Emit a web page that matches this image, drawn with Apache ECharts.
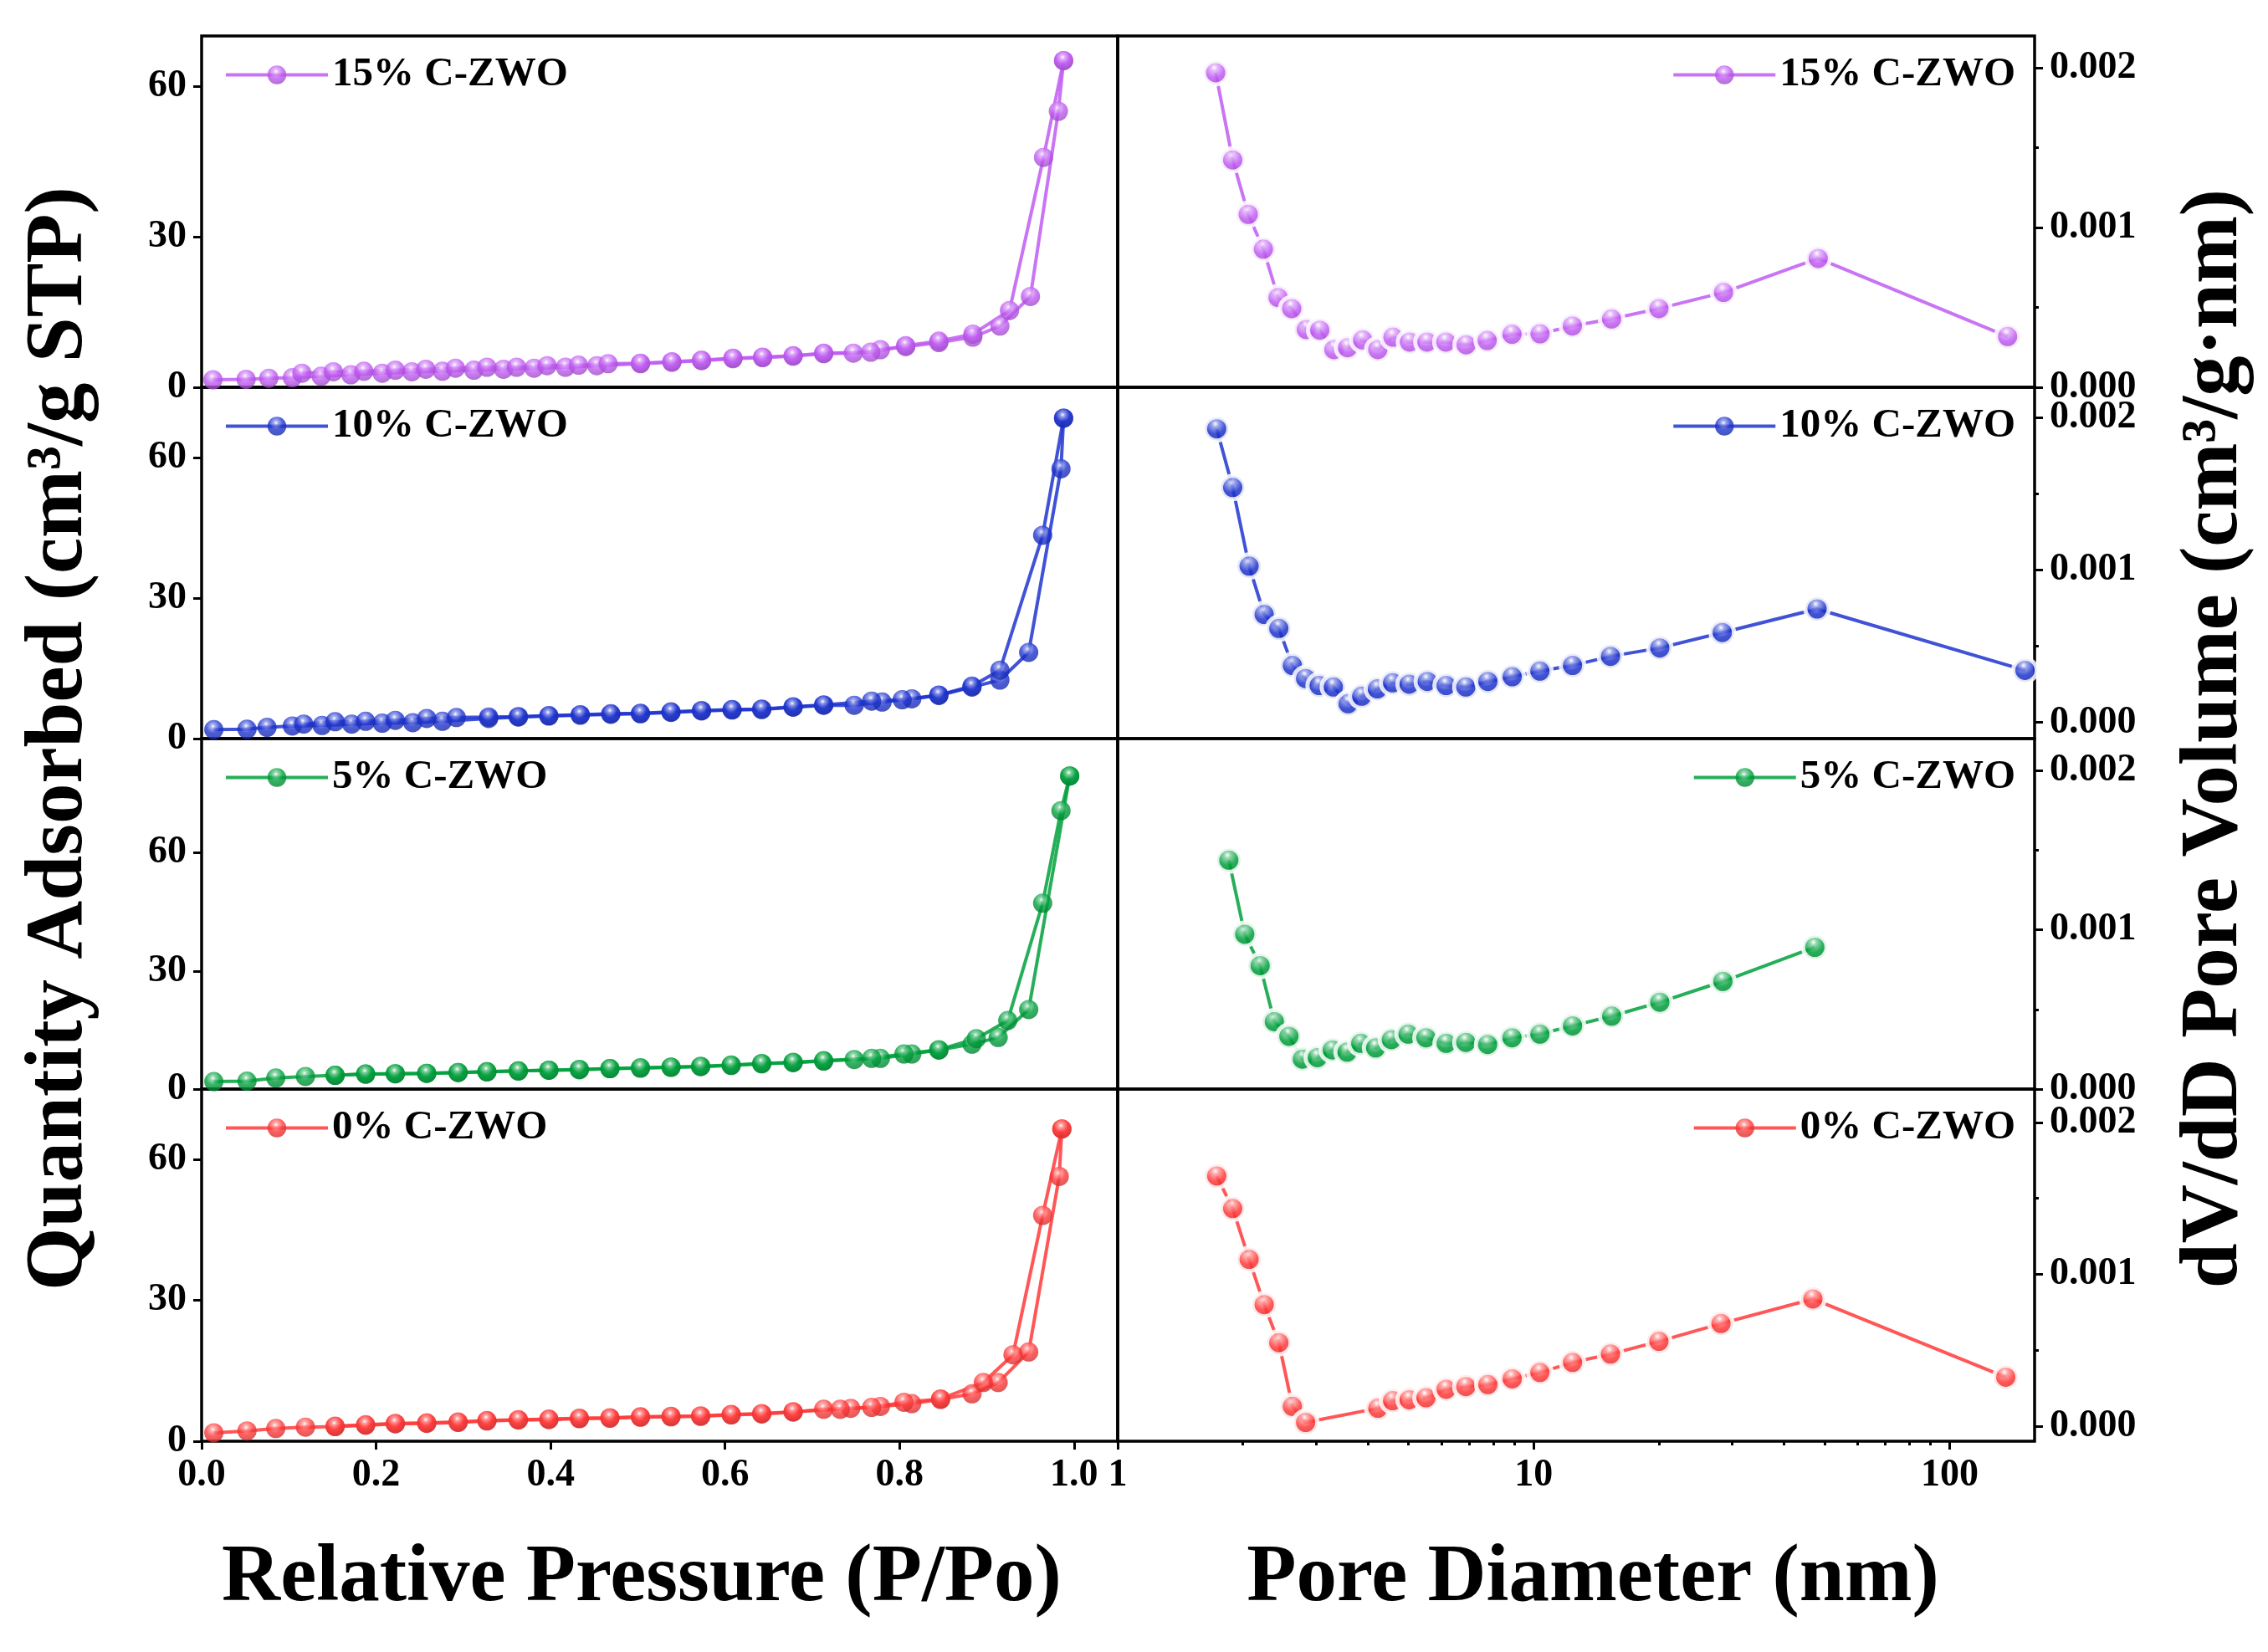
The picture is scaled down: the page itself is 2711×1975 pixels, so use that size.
<!DOCTYPE html>
<html>
<head>
<meta charset="utf-8">
<title>N2 isotherms and pore size distribution</title>
<script src="https://cdn.jsdelivr.net/npm/echarts@6/dist/echarts.min.js"></script>
<style>
  html, body { margin: 0; padding: 0; background: #fff; }
  #chart { width: 2711px; height: 1975px; }
</style>
</head>
<body>
<div id="chart"></div>
<script>
// samples, top row to bottom row
const sampleNames = ['15% C-ZWO', '10% C-ZWO', '5% C-ZWO', '0% C-ZWO'];

// isotherms: relative pressure (P/Po) and quantity adsorbed (cm3/g STP)
const iso15AdsP = [0.013, 0.051, 0.077, 0.104, 0.137, 0.171, 0.207, 0.241, 0.276, 0.312, 0.346, 0.381, 0.417, 0.453, 0.503, 0.539, 0.573, 0.609, 0.643, 0.678, 0.713, 0.747, 0.778, 0.807, 0.845, 0.884, 0.915, 0.950, 0.982, 0.988];
const iso15AdsV = [1.5, 1.6, 1.8, 1.9, 2.2, 2.5, 2.8, 3.1, 3.2, 3.4, 3.6, 3.8, 4.0, 4.3, 4.7, 5.0, 5.3, 5.7, 5.9, 6.2, 6.7, 6.8, 7.5, 8.1, 8.9, 10.0, 12.2, 18.1, 55.0, 65.1];
const iso15DesP = [0.988, 0.965, 0.926, 0.884, 0.845, 0.807, 0.767, 0.713, 0.678, 0.643, 0.609, 0.573, 0.539, 0.503, 0.466, 0.432, 0.396, 0.361, 0.327, 0.291, 0.257, 0.222, 0.186, 0.151, 0.115];
const iso15DesV = [65.1, 45.8, 15.3, 10.6, 9.2, 8.3, 7.0, 6.8, 6.3, 6.0, 5.8, 5.4, 5.1, 4.8, 4.7, 4.4, 4.3, 4.0, 4.0, 3.8, 3.6, 3.4, 3.2, 3.1, 2.8];

const iso10AdsP = [0.014, 0.052, 0.075, 0.104, 0.138, 0.172, 0.207, 0.242, 0.276, 0.329, 0.363, 0.398, 0.434, 0.469, 0.503, 0.538, 0.573, 0.608, 0.642, 0.678, 0.713, 0.748, 0.780, 0.814, 0.845, 0.883, 0.915, 0.948, 0.985, 0.988];
const iso10AdsV = [1.9, 2.0, 2.4, 2.7, 2.8, 3.1, 3.3, 3.4, 3.7, 4.3, 4.6, 4.8, 5.0, 5.2, 5.3, 5.6, 5.9, 6.1, 6.2, 6.7, 7.1, 7.1, 7.8, 8.5, 9.2, 11.0, 12.5, 18.4, 57.6, 68.4];
const iso10DesP = [0.988, 0.964, 0.915, 0.883, 0.845, 0.803, 0.768, 0.713, 0.678, 0.642, 0.608, 0.573, 0.538, 0.503, 0.469, 0.434, 0.398, 0.363, 0.329, 0.292, 0.258, 0.222, 0.188, 0.153, 0.117];
const iso10DesV = [68.4, 43.4, 14.6, 11.2, 9.3, 8.3, 8.0, 7.2, 6.8, 6.3, 6.2, 6.0, 5.7, 5.4, 5.3, 5.1, 4.9, 4.7, 4.6, 4.5, 4.3, 3.9, 3.7, 3.6, 3.1];

const iso5AdsP = [0.014, 0.052, 0.085, 0.119, 0.153, 0.188, 0.222, 0.258, 0.294, 0.327, 0.363, 0.398, 0.433, 0.468, 0.503, 0.538, 0.572, 0.607, 0.642, 0.678, 0.713, 0.748, 0.778, 0.814, 0.845, 0.883, 0.913, 0.948, 0.995];
const iso5AdsV = [1.9, 2.0, 2.8, 3.2, 3.5, 3.8, 3.9, 4.0, 4.2, 4.4, 4.6, 4.8, 4.9, 5.2, 5.3, 5.5, 5.7, 6.0, 6.4, 6.7, 7.1, 7.5, 7.8, 8.9, 9.9, 11.4, 13.1, 20.2, 79.5];
const iso5DesP = [0.995, 0.985, 0.964, 0.924, 0.888, 0.845, 0.805, 0.768, 0.713, 0.678, 0.642, 0.607, 0.572, 0.538, 0.503, 0.468, 0.433, 0.398, 0.363, 0.327, 0.294, 0.258, 0.222, 0.188, 0.153];
const iso5DesV = [79.5, 70.7, 47.2, 17.4, 12.8, 10.0, 8.9, 7.8, 7.2, 6.8, 6.5, 6.1, 5.8, 5.6, 5.4, 5.2, 5.0, 4.8, 4.6, 4.4, 4.2, 4.0, 3.9, 3.8, 3.5];

const iso0AdsP = [0.014, 0.052, 0.085, 0.119, 0.153, 0.188, 0.222, 0.258, 0.294, 0.327, 0.363, 0.398, 0.433, 0.468, 0.503, 0.538, 0.572, 0.607, 0.642, 0.678, 0.713, 0.744, 0.778, 0.814, 0.847, 0.883, 0.913, 0.948, 0.983, 0.986];
const iso0AdsV = [1.8, 2.2, 2.7, 3.0, 3.1, 3.4, 3.7, 3.8, 4.0, 4.3, 4.5, 4.6, 4.8, 4.9, 5.1, 5.2, 5.3, 5.6, 5.8, 6.2, 6.8, 7.0, 7.4, 8.0, 8.9, 10.1, 12.5, 19.0, 56.4, 66.5];
const iso0DesP = [0.986, 0.964, 0.930, 0.896, 0.847, 0.805, 0.768, 0.732, 0.678, 0.642, 0.607, 0.572, 0.538, 0.503, 0.468, 0.433, 0.398, 0.363, 0.327, 0.294, 0.258, 0.222, 0.188, 0.153];
const iso0DesV = [66.5, 48.1, 18.4, 12.5, 9.0, 8.3, 7.2, 6.8, 6.3, 5.9, 5.7, 5.4, 5.3, 5.2, 5.0, 4.9, 4.7, 4.6, 4.4, 4.1, 3.9, 3.8, 3.5, 3.2];

// pore size distribution: pore diameter (nm) and dV/dD (cm3/g.nm)
const psd15D = [1.72, 1.89, 2.06, 2.24, 2.43, 2.62, 2.84, 3.06, 3.31, 3.57, 3.88, 4.22, 4.59, 5.03, 5.54, 6.15, 6.88, 7.73, 8.87, 10.36, 12.39, 15.39, 20.0, 28.6, 48.3, 137.8];
const psd15V = [0.00197, 0.001424, 0.001083, 0.000865, 0.000562, 0.000493, 0.000362, 0.000358, 0.000236, 0.000248, 0.000297, 0.000236, 0.000314, 0.000283, 0.000283, 0.000283, 0.000266, 0.000293, 0.000332, 0.000335, 0.000384, 0.000428, 0.000493, 0.000594, 0.000807, 0.000318];

const psd10D = [1.73, 1.89, 2.07, 2.25, 2.44, 2.63, 2.83, 3.05, 3.30, 3.58, 3.86, 4.21, 4.58, 5.02, 5.55, 6.16, 6.87, 7.76, 8.88, 10.35, 12.4, 15.3, 20.1, 28.4, 48.0, 151.7];
const psd10V = [0.001927, 0.001542, 0.001026, 0.000709, 0.000617, 0.000374, 0.000288, 0.000242, 0.000233, 0.000123, 0.000172, 0.00022, 0.00026, 0.000251, 0.000269, 0.000242, 0.000233, 0.000269, 0.0003, 0.000337, 0.000374, 0.000434, 0.000489, 0.00059, 0.000745, 0.000342];

const psd5D = [1.85, 2.02, 2.20, 2.38, 2.58, 2.78, 3.02, 3.28, 3.56, 3.84, 4.17, 4.55, 4.99, 5.51, 6.16, 6.87, 7.75, 8.87, 10.35, 12.4, 15.4, 20.1, 28.5, 47.4];
const psd5V = [0.001437, 0.000972, 0.000775, 0.000423, 0.000331, 0.000188, 0.000197, 0.000246, 0.000232, 0.000287, 0.000258, 0.00031, 0.000345, 0.000322, 0.000287, 0.000293, 0.00028, 0.000322, 0.000345, 0.000397, 0.000458, 0.000545, 0.000676, 0.00089];

const psd0D = [1.73, 1.89, 2.07, 2.25, 2.44, 2.63, 2.83, 4.22, 4.58, 5.02, 5.51, 6.16, 6.87, 7.76, 8.88, 10.35, 12.4, 15.3, 20.0, 28.2, 46.9, 136.4];
const psd0V = [0.001647, 0.001433, 0.001098, 0.0008, 0.000549, 0.00013, 0.000024, 0.000117, 0.000167, 0.000173, 0.000186, 0.000242, 0.00026, 0.000273, 0.000311, 0.000353, 0.000419, 0.000474, 0.000558, 0.000675, 0.000837, 0.000322];

// axis ranges and tick labels
const pressureTicks = [0, 0.2, 0.4, 0.6, 0.8, 1.0];
const quantityTicks = [0, 30, 60];
const quantityMax = [70, 75, 89, 75];
const volumeTicks = [0, 0.001, 0.002];
const volumeMinorTicks = [0.0005, 0.0015];
const volumeMin = [0, -0.000106, 0, -0.0001];
const volumeMax = [0.0022, 0.0022, 0.0022, 0.00222];
const diameterMin = 1;
const diameterMax = 160;
const diameterDecades = [1, 10, 100];
const diameterMinorTicks = [2, 3, 4, 5, 6, 7, 8, 9, 20, 30, 40, 50, 60, 70, 80, 90];

const sampleColors = ['#c05cf2', '#1f34cf', '#00a03c', '#ff3a3a'];

const isotherms = [
  [iso15AdsP, iso15AdsV, iso15DesP, iso15DesV],
  [iso10AdsP, iso10AdsV, iso10DesP, iso10DesV],
  [iso5AdsP, iso5AdsV, iso5DesP, iso5DesV],
  [iso0AdsP, iso0AdsV, iso0DesP, iso0DesV],
];
const distributions = [
  [psd15D, psd15V],
  [psd10D, psd10V],
  [psd5D, psd5V],
  [psd0D, psd0V],
];

const FONT = '"Liberation Serif", "Times New Roman", serif';
const rowTops = [43, 463, 883, 1302];
const rowHeights = [420, 420, 419, 421];
const colLefts = [241, 1336];
const colWidths = [1095, 1096];

const zip = (xs, ys) => xs.map((x, i) => [x, ys[i]]);

const mix = (hex, target, t) => {
  const v = parseInt(hex.slice(1), 16);
  const ch = [(v >> 16) & 255, (v >> 8) & 255, v & 255];
  const out = ch.map((c) => Math.round(c + (target - c) * t));
  return `rgb(${out[0]}, ${out[1]}, ${out[2]})`;
};

// shaded sphere look of the markers
const ball = (color) => ({
  type: 'radial',
  x: 0.45,
  y: 0.32,
  r: 0.72,
  colorStops: [
    { offset: 0, color: '#ffffff' },
    { offset: 0.16, color: mix(color, 255, 0.5) },
    { offset: 0.5, color },
    { offset: 1, color: mix(color, 0, 0.2) },
  ],
});

const tickLabel = {
  fontFamily: FONT,
  fontWeight: 'bold',
  fontSize: 46,
  color: '#000',
  margin: 18,
};
const tickLine = { color: '#000', width: 3 };

const grids = [];
const xAxes = [];
const yAxes = [];
const series = [];
const legends = [];

rowTops.forEach((top, r) => {
  colLefts.forEach((left, c) => {
    grids.push({
      left,
      top,
      width: colWidths[c],
      height: rowHeights[r],
      show: true,
      borderColor: '#000',
      borderWidth: 3.5,
      containLabel: false,
      outerBoundsMode: 'none',
    });
  });
});

rowTops.forEach((top, r) => {
  const name = sampleNames[r];
  const color = sampleColors[r];
  const bottomRow = r === rowTops.length - 1;

  // left: isotherm
  const leftX = xAxes.length;
  xAxes.push({
    type: 'value',
    gridIndex: r * 2,
    min: 0,
    max: 1.05,
    show: bottomRow,
    position: 'bottom',
    axisLine: { show: false, onZero: false },
    axisTick: { show: true, inside: false, length: 10, lineStyle: tickLine, customValues: pressureTicks },
    axisLabel: { ...tickLabel, customValues: pressureTicks, formatter: (v) => v.toFixed(1) },
    splitLine: { show: false },
  });
  const leftY = yAxes.length;
  yAxes.push({
    type: 'value',
    gridIndex: r * 2,
    min: 0,
    max: quantityMax[r],
    position: 'left',
    axisLine: { show: false, onZero: false },
    axisTick: { show: true, inside: false, length: 10, lineStyle: tickLine, customValues: quantityTicks },
    axisLabel: { ...tickLabel, customValues: quantityTicks },
    splitLine: { show: false },
  });

  // right: pore size distribution on a log axis
  const rightX = xAxes.length;
  xAxes.push({
    type: 'log',
    logBase: 10,
    gridIndex: r * 2 + 1,
    min: diameterMin,
    max: diameterMax,
    show: false,
    axisLine: { onZero: false },
    splitLine: { show: false },
  });
  if (bottomRow) {
    // decade ticks and labels, then the minor ticks in between
    const logMax = Math.log10(diameterMax);
    xAxes.push({
      type: 'value',
      gridIndex: r * 2 + 1,
      min: Math.log10(diameterMin),
      max: logMax,
      position: 'bottom',
      axisLine: { show: false, onZero: false },
      axisTick: { show: true, length: 10, lineStyle: tickLine, customValues: diameterDecades.map(Math.log10) },
      axisLabel: {
        ...tickLabel,
        customValues: diameterDecades.map(Math.log10),
        formatter: (v) => String(Math.round(Math.pow(10, v))),
      },
      splitLine: { show: false },
    });
    xAxes.push({
      type: 'value',
      gridIndex: r * 2 + 1,
      min: Math.log10(diameterMin),
      max: logMax,
      position: 'bottom',
      axisLine: { show: false, onZero: false },
      axisTick: {
        show: true,
        length: 5,
        lineStyle: tickLine,
        customValues: diameterMinorTicks.filter((d) => d <= diameterMax).map(Math.log10),
      },
      axisLabel: { show: false },
      splitLine: { show: false },
    });
  }
  const rightY = yAxes.length;
  yAxes.push({
    type: 'value',
    gridIndex: r * 2 + 1,
    min: volumeMin[r],
    max: volumeMax[r],
    position: 'right',
    axisLine: { show: false, onZero: false },
    axisTick: { show: true, length: 10, lineStyle: tickLine, customValues: volumeTicks },
    axisLabel: { ...tickLabel, customValues: volumeTicks, formatter: (v) => v.toFixed(3) },
    splitLine: { show: false },
  });
  yAxes.push({
    type: 'value',
    gridIndex: r * 2 + 1,
    min: volumeMin[r],
    max: volumeMax[r],
    position: 'right',
    axisLine: { show: false, onZero: false },
    axisTick: { show: true, length: 5, lineStyle: tickLine, customValues: volumeMinorTicks },
    axisLabel: { show: false },
    splitLine: { show: false },
  });

  const common = {
    type: 'line',
    name,
    symbol: 'circle',
    symbolSize: 23,
    showAllSymbol: true,
    lineStyle: { color, width: 4, opacity: 0.85 },
    itemStyle: { color: ball(color), opacity: 0.8 },
    emphasis: { disabled: true },
    z: 3,
  };
  const [adsP, adsV, desP, desV] = isotherms[r];
  series.push({ ...common, xAxisIndex: leftX, yAxisIndex: leftY, data: zip(adsP, adsV) });
  series.push({ ...common, xAxisIndex: leftX, yAxisIndex: leftY, data: zip(desP, desV) });
  const [dD, dV] = distributions[r];
  // white rim on the distribution markers leaves the small gap between line and marker
  series.push({
    ...common,
    xAxisIndex: rightX,
    yAxisIndex: rightY,
    symbolSize: 28,
    itemStyle: { color: ball(color), opacity: 0.85, borderColor: '#fff', borderWidth: 5 },
    data: zip(dD, dV),
  });

  const legendText = { fontFamily: FONT, fontWeight: 'bold', fontSize: 49, color: '#000' };
  const legendBase = {
    data: [name],
    top: top + 22,
    padding: 0,
    itemWidth: 122,
    itemHeight: 28,
    selectedMode: false,
    textStyle: legendText,
    lineStyle: { width: 4 },
  };
  legends.push({ ...legendBase, left: 268 });
  legends.push({ ...legendBase, right: 302 });
});

const titleFont = `bold 97px ${FONT}`;

const chart = echarts.init(document.getElementById('chart'), null, { renderer: 'canvas' });
chart.setOption({
  animation: false,
  backgroundColor: '#fff',
  grid: grids,
  xAxis: xAxes,
  yAxis: yAxes,
  legend: legends,
  series,
  graphic: [
    {
      type: 'text',
      x: 72,
      y: 883,
      rotation: Math.PI / 2,
      style: { text: 'Quantity Adsorbed (cm³/g STP)', font: titleFont, fill: '#000', align: 'center', verticalAlign: 'middle' },
    },
    {
      type: 'text',
      x: 2648,
      y: 883,
      rotation: Math.PI / 2,
      style: { text: 'dV/dD Pore Volume (cm³/g·nm)', font: titleFont, fill: '#000', align: 'center', verticalAlign: 'middle' },
    },
    {
      type: 'text',
      x: 767,
      y: 1888,
      style: { text: 'Relative Pressure (P/Po)', font: titleFont, fill: '#000', align: 'center', verticalAlign: 'middle' },
    },
    {
      type: 'text',
      x: 1904,
      y: 1888,
      style: { text: 'Pore Diameter (nm)', font: titleFont, fill: '#000', align: 'center', verticalAlign: 'middle' },
    },
  ],
});
</script>
</body>
</html>
